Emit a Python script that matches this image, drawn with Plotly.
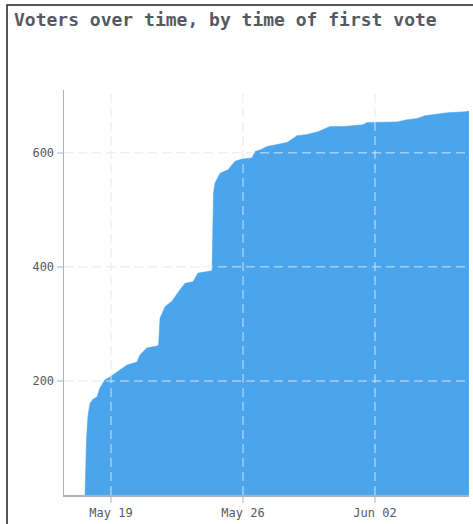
import plotly.graph_objects as go

# Cumulative voters, by time of first vote
times = [
    "2024-05-17 14:55", "2024-05-17 15:33", "2024-05-17 16:49", "2024-05-17 18:44",
    "2024-05-17 21:16", "2024-05-18 01:05", "2024-05-18 06:11", "2024-05-18 10:00",
    "2024-05-18 16:22", "2024-05-18 22:44", "2024-05-19 07:38", "2024-05-19 20:22",
    "2024-05-20 09:05", "2024-05-20 12:55", "2024-05-20 21:49", "2024-05-21 10:33",
    "2024-05-21 12:30", "2024-05-21 14:22", "2024-05-21 20:44", "2024-05-22 05:38",
    "2024-05-22 15:49", "2024-05-22 22:11", "2024-05-23 08:22", "2024-05-23 14:44",
    "2024-05-24 08:33", "2024-05-24 09:26", "2024-05-24 10:27", "2024-05-24 12:22",
    "2024-05-24 18:44", "2024-05-25 04:55", "2024-05-25 13:49", "2024-05-25 22:44",
    "2024-05-26 11:27", "2024-05-26 15:16", "2024-05-26 21:38", "2024-05-27 06:33",
    "2024-05-27 19:16", "2024-05-28 08:00", "2024-05-28 20:44", "2024-05-29 09:27",
    "2024-05-29 23:27", "2024-05-30 14:44", "2024-05-31 07:16", "2024-06-01 08:44",
    "2024-06-01 13:49", "2024-06-03 04:00", "2024-06-03 16:44", "2024-06-04 05:27",
    "2024-06-04 15:38", "2024-06-05 06:55", "2024-06-05 19:38", "2024-06-06 18:33",
    "2024-06-06 23:38",
]
voters = [
    0, 40, 100, 140,
    161, 168, 172, 188,
    202, 207, 216, 228,
    233, 246, 258, 261,
    263, 310, 330, 340,
    360, 371, 374, 389,
    393, 500, 530, 547,
    564, 570, 585, 589,
    591, 602, 605, 611,
    614, 618, 630, 632,
    637, 646, 646, 649,
    653, 654, 658, 660,
    665, 668, 670, 672,
    673,
]

x_tickvals = ["2024-05-19", "2024-05-26", "2024-06-02"]
x_ticktext = ["May 19", "May 26", "Jun 02"]
y_tickvals = [200, 400, 600]
x_range = ["2024-05-16 12:10", "2024-06-06 23:38"]
y_range = [0, 710]

BLUE = "#4BA5EC"
GRID = "rgba(222,230,240,0.62)"
AXIS = "#A9B3BE"
TEXT = "#555a60"
MONO = "DejaVu Sans Mono"

fig = go.Figure()
fig.add_trace(go.Scatter(
    x=times, y=voters, mode="lines", fill="tozeroy",
    fillcolor=BLUE, line=dict(color=BLUE, width=0.5),
    hoverinfo="skip", showlegend=False,
))

shapes = []
for xv in x_tickvals:
    shapes.append(dict(type="line", xref="x", yref="paper", x0=xv, x1=xv, y0=0, y1=1,
                       line=dict(color=GRID, width=1.5, dash="9px,5px"), layer="above"))
for yv in y_tickvals:
    shapes.append(dict(type="line", xref="paper", yref="y", x0=0, x1=1, y0=yv, y1=yv,
                       line=dict(color=GRID, width=1.5, dash="9px,5px"), layer="above"))
# card border (top and left edges visible)
shapes.append(dict(type="rect", xref="paper", yref="paper",
                   x0=(7 - 64) / 405, x1=1.2, y0=-0.3, y1=(495 - 5) / 405,
                   line=dict(color="#222222", width=1.5), layer="above"))

fig.update_layout(
    width=473, height=524,
    margin=dict(l=64, r=4, t=90, b=29),
    paper_bgcolor="white", plot_bgcolor="white",
    title=dict(text="<b>Voters over time, by time of first vote</b>",
               x=14 / 473, xanchor="left", xref="container",
               y=1 - 20 / 524, yanchor="middle", yref="container",
               font=dict(family=MONO, size=18, color=TEXT)),
    font=dict(family=MONO, size=12, color=TEXT),
    shapes=shapes,
    xaxis=dict(range=x_range, type="date", tickvals=x_tickvals, ticktext=x_ticktext,
               showgrid=False, zeroline=False, showline=True, linecolor=AXIS, linewidth=1.5,
               ticks="outside", ticklen=6, tickcolor="#D5DAE0", tickwidth=1.5,
               tickfont=dict(family=MONO, size=12, color=TEXT)),
    yaxis=dict(range=y_range, tickvals=y_tickvals,
               showgrid=False, zeroline=False, showline=True, linecolor=AXIS, linewidth=1.5,
               ticks="outside", ticklen=6, tickcolor="#D5DAE0", tickwidth=1.5,
               tickfont=dict(family=MONO, size=12, color=TEXT)),
)

fig.write_html(
    "out.html",
    config={"displayModeBar": False, "staticPlot": True},
    post_script="document.body.style.margin='0';document.body.style.overflow='hidden';",
)
